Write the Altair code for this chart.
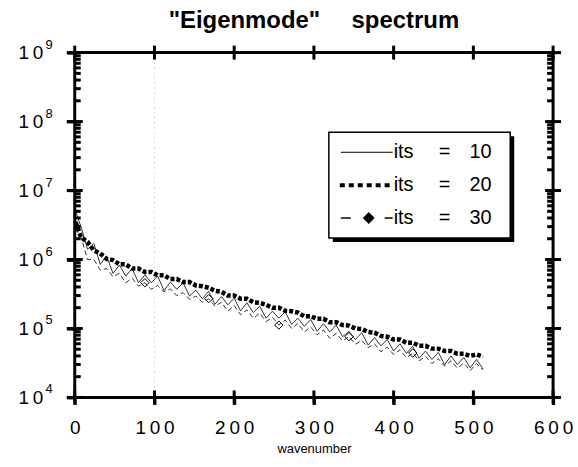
import altair as alt
import pandas as pd

# ---------------- data ----------------
wavenumber = [1, 8, 16, 24, 32, 40, 48, 56, 64, 72, 80, 88, 96, 104, 112, 120,
              128, 136, 144, 152, 160, 168, 176, 184, 192, 200, 208, 216, 224,
              232, 240, 248, 256, 264, 272, 280, 288, 296, 304, 312, 320, 328,
              336, 344, 352, 360, 368, 376, 384, 392, 400, 408, 416, 424, 432,
              440, 448, 456, 464, 472, 480, 488, 496, 504, 512]

its10 = [5.0e6, 2.95e6, 1.41e6, 1.7e6, 8.5e5, 1.12e6, 6.3e5, 8.3e5, 5.75e5, 7.4e5,
         4.6e5, 6.0e5, 4.6e5, 5.75e5, 3.55e5, 4.7e5, 3.7e5, 4.6e5, 2.95e5, 3.6e5,
         2.7e5, 3.45e5, 2.25e5, 2.9e5, 2.2e5, 2.75e5, 1.8e5, 2.35e5, 1.7e5, 2.1e5,
         1.41e5, 1.78e5, 1.41e5, 1.74e5, 1.15e5, 1.41e5, 1.07e5, 1.35e5, 9.1e4, 1.17e5,
         8.9e4, 1.12e5, 7.6e4, 9.1e4, 6.9e4, 8.7e4, 5.75e4, 7.4e4, 5.6e4, 6.9e4,
         4.7e4, 6.0e4, 4.35e4, 5.5e4, 3.7e4, 4.7e4, 3.55e4, 4.5e4, 3.0e4, 4.0e4,
         3.0e4, 3.8e4, 2.7e4, 3.55e4, 2.6e4]

its20 = [3.5e6, 2.1e6, 1.8e6, 1.35e6, 1.23e6, 1.02e6, 9.8e5, 8.5e5, 8.5e5, 7.4e5,
         7.4e5, 6.6e5, 6.6e5, 5.9e5, 5.9e5, 5.2e5, 5.2e5, 4.7e5, 4.7e5, 4.2e5,
         4.1e5, 3.9e5, 3.5e5, 3.4e5, 3.0e5, 3.0e5, 2.7e5, 2.7e5, 2.4e5, 2.35e5,
         2.2e5, 2.0e5, 2.0e5, 1.8e5, 1.78e5, 1.7e5, 1.5e5, 1.5e5, 1.38e5, 1.38e5,
         1.23e5, 1.23e5, 1.12e5, 1.1e5, 1.0e5, 9.8e4, 8.9e4, 8.7e4, 7.8e4, 7.6e4,
         6.9e4, 6.9e4, 6.2e4, 6.2e4, 5.6e4, 5.6e4, 5.1e4, 5.1e4, 4.7e4, 4.7e4,
         4.3e4, 4.3e4, 4.0e4, 4.2e4, 3.9e4]

its30 = [2.8e6, 2.1e6, 1.0e6, 1.0e6, 7.0e5, 7.4e5, 5.6e5, 6.3e5, 4.6e5, 5.35e5,
         4.1e5, 4.6e5, 3.7e5, 4.2e5, 3.4e5, 3.75e5, 3.0e5, 3.3e5, 2.65e5, 2.95e5,
         2.4e5, 2.7e5, 2.1e5, 2.4e5, 1.78e5, 2.15e5, 1.58e5, 1.86e5, 1.41e5, 1.66e5,
         1.26e5, 1.45e5, 1.12e5, 1.32e5, 1.0e5, 1.18e5, 8.9e4, 1.05e5, 8.1e4, 9.5e4,
         7.2e4, 8.5e4, 6.6e4, 7.6e4, 5.9e4, 6.7e4, 5.3e4, 6.0e4, 4.6e4, 5.35e4,
         4.2e4, 4.9e4, 3.75e4, 4.4e4, 3.4e4, 3.95e4, 3.1e4, 3.65e4, 2.85e4, 3.4e4,
         2.65e4, 3.15e4, 2.45e4, 3.1e4, 2.5e4]

diamond_wavenumbers = [88, 168, 256, 344, 424]

x_ticks = [0, 100, 200, 300, 400, 500, 600]
y_major = [1e4, 1e5, 1e6, 1e7, 1e8, 1e9]
y_exponents = ["4", "5", "6", "7", "8", "9"]
y_minor = [k * 10 ** e for e in range(4, 9) for k in range(2, 10)]
marker_line = [100]

title_text = "\"Eigenmode\"\u00a0\u00a0\u00a0\u00a0\u2009spectrum"
x_title = "wavenumber"
legend_labels = ["10", "20", "30"]

FONT = "Liberation Sans"
THIN = "\u2009"

W, H = 480, 346
XMIN, XMAX, YMIN, YMAX = 0, 600, 1e4, 1e9
XS = alt.Scale(domain=[XMIN, XMAX], nice=False, zero=False)
YS = alt.Scale(type="log", domain=[YMIN, YMAX], nice=False)

x_axis = alt.Axis(values=x_ticks, format="d", grid=False, domain=False,
                  ticks=True, tickSize=7, tickWidth=3, tickColor="black",
                  labelColor="black", labelFontSize=19, labelFont=FONT,
                  labelPadding=14, labelExpr="join(split(datum.label, ''), '" + THIN + "')",
                  labelFlush=False, title=x_title, titleFontSize=13, titleFont=FONT,
                  titleFontWeight="normal", titlePadding=5, titleColor="black")
y_axis = alt.Axis(values=y_major, grid=False, domain=False,
                  ticks=True, tickSize=8, tickWidth=3, tickColor="black",
                  labelColor="black", labelFontSize=19, labelFont=FONT, labelPadding=24,
                  labelExpr="'1" + THIN + "0'", title=None)

X = alt.X("x:Q", scale=XS, axis=x_axis)
Y = alt.Y("y:Q", scale=YS, axis=y_axis)

s10 = pd.DataFrame({"x": wavenumber, "y": its10})
s20 = pd.DataFrame({"x": wavenumber, "y": its20})
s30 = pd.DataFrame({"x": wavenumber, "y": its30})
dia = s30[s30["x"].isin(diamond_wavenumbers)]
one = pd.DataFrame({"a": [0]})

# tick mark positions on the frame
xt_df = pd.DataFrame({"x": x_ticks * 2, "y": [YMIN] * len(x_ticks) + [YMAX] * len(x_ticks)})
ymaj_df = pd.DataFrame({"x": [XMIN] * len(y_major) + [XMAX] * len(y_major), "y": y_major * 2})
yminl_df = pd.DataFrame({"x": [XMIN] * len(y_minor), "y": y_minor})
yminr_df = pd.DataFrame({"x": [XMAX] * len(y_minor), "y": y_minor})
exp_df = pd.DataFrame({"y": y_major, "e": y_exponents})


def tick_layer(data, shape, size):
    return alt.Chart(data).mark_point(shape=shape, size=size, filled=False, color="black",
                                      opacity=1, strokeWidth=3).encode(x=X, y=Y)


ticks = [
    tick_layer(xt_df, "M0,-1L0,1", 196),
    tick_layer(ymaj_df, "M-1,0L1,0", 256),
    tick_layer(yminl_df, "M0,0L1,0", 144),
    tick_layer(yminr_df, "M-1,0L0,0", 144),
]

exps = alt.Chart(exp_df).mark_text(font=FONT, fontSize=13, align="right", baseline="middle",
                                   color="black", dy=-8).encode(
    y=Y, x=alt.value(-22), text="e:N")

vline = alt.Chart(pd.DataFrame({"x": marker_line})).mark_rule(
    color="#bbbbbb", strokeWidth=1, strokeDash=[1, 4]).encode(x=X)

l30 = alt.Chart(s30).mark_line(color="black", strokeWidth=0.8, strokeDash=[5, 3]).encode(x=X, y=Y)
l10 = alt.Chart(s10).mark_line(color="black", strokeWidth=0.8).encode(x=X, y=Y)
l20 = alt.Chart(s20).mark_line(color="black", strokeWidth=4.5, strokeDash=[4, 2]).encode(x=X, y=Y)
d30 = alt.Chart(dia).mark_point(shape="diamond", filled=False, color="black", opacity=1,
                                size=70, strokeWidth=1).encode(x=X, y=Y)

# ---------------- title ----------------
title = alt.Chart(one).mark_text(text=title_text, font=FONT, fontSize=24, fontWeight="bold",
                                 align="center", baseline="alphabetic", color="black").encode(
    x=alt.value(W / 2), y=alt.value(-25))

# ---------------- legend ----------------
LX0, LX1, LY0, LY1 = 255, 437, 80, 186
rows = [100, 133, 166]
leg = []
leg.append(alt.Chart(one).mark_rect(fill="black").encode(
    x=alt.value(LX0 + 4), x2=alt.value(LX1 + 4), y=alt.value(LY0 + 4), y2=alt.value(LY1 + 4)))
leg.append(alt.Chart(one).mark_rect(fill="white", stroke="black", strokeWidth=1.5).encode(
    x=alt.value(LX0), x2=alt.value(LX1), y=alt.value(LY0), y2=alt.value(LY1)))
leg.append(alt.Chart(one).mark_rule(color="black", strokeWidth=1).encode(
    x=alt.value(267), x2=alt.value(319), y=alt.value(rows[0])))
leg.append(alt.Chart(one).mark_rule(color="black", strokeWidth=4, strokeDash=[5, 4]).encode(
    x=alt.value(266), x2=alt.value(320), y=alt.value(rows[1])))
leg.append(alt.Chart(one).mark_rule(color="black", strokeWidth=1.5).encode(
    x=alt.value(267), x2=alt.value(277), y=alt.value(rows[2])))
leg.append(alt.Chart(one).mark_rule(color="black", strokeWidth=1.5).encode(
    x=alt.value(311), x2=alt.value(319), y=alt.value(rows[2])))
leg.append(alt.Chart(one).mark_point(shape="diamond", filled=False, color="black", opacity=1,
                                     size=40, strokeWidth=4).encode(
    x=alt.value(295), y=alt.value(rows[2])))
for r, lab in zip(rows, legend_labels):
    leg.append(alt.Chart(one).mark_text(text="its", font=FONT, fontSize=20, align="left",
                                        baseline="middle", color="black").encode(
        x=alt.value(320), y=alt.value(r)))
    leg.append(alt.Chart(one).mark_text(text="=", font=FONT, fontSize=20, align="center",
                                        baseline="middle", color="black").encode(
        x=alt.value(371), y=alt.value(r)))
    leg.append(alt.Chart(one).mark_text(text=lab, font=FONT, fontSize=20, align="left",
                                        baseline="middle", color="black").encode(
        x=alt.value(396), y=alt.value(r)))

chart = alt.layer(
    vline, l30, l10, l20, d30, *ticks, exps, title, *leg
).properties(
    width=W, height=H,
    padding={"left": 18, "top": 8, "right": 5, "bottom": 5},
).configure_view(stroke="black", strokeWidth=3)

chart.save("out.html", embed_options={"renderer": "svg", "actions": False})
